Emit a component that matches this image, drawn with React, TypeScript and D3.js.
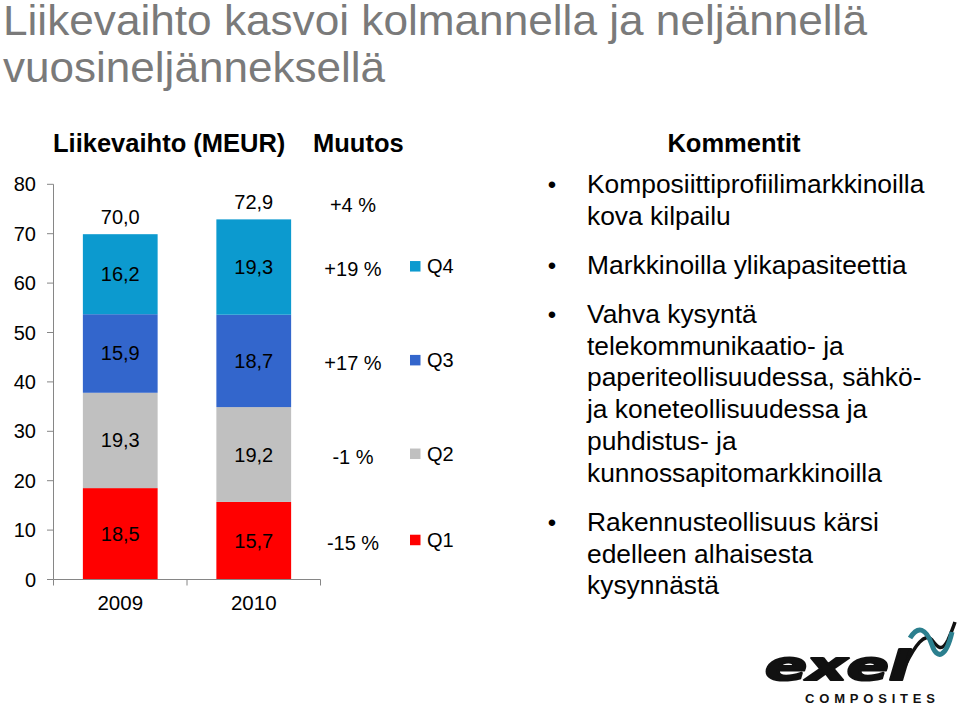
import React from "react";
import * as d3 from "d3";

const titleLines = ["Liikevaihto kasvoi kolmannella ja neljännellä", "vuosineljänneksellä"];
const years = ["2009", "2010"];
const quarters = ["Q1", "Q2", "Q3", "Q4"];
const values2009 = [18.5, 19.3, 15.9, 16.2];
const values2010 = [15.7, 19.2, 18.7, 19.3];
const totals = [70.0, 72.9];
const totalLabels = ["70,0", "72,9"];
const changes = ["-15 %", "-1 %", "+17 %", "+19 %"];
const totalChange = "+4 %";
const yTicks = [0, 10, 20, 30, 40, 50, 60, 70, 80];
const quarterColors = ["#FF0000", "#C0C0C0", "#3366CC", "#0C9ACF"];
const comments = [
  ["Komposiittiprofiilimarkkinoilla", "kova kilpailu"],
  ["Markkinoilla ylikapasiteettia"],
  [
    "Vahva kysyntä",
    "telekommunikaatio- ja",
    "paperiteollisuudessa, sähkö-",
    "ja koneteollisuudessa ja",
    "puhdistus- ja",
    "kunnossapitomarkkinoilla",
  ],
  ["Rakennusteollisuus kärsi", "edelleen alhaisesta", "kysynnästä"],
];

const FONT = "'Liberation Sans', Arial, Helvetica, sans-serif";
const fmt = (v: number) => v.toFixed(1).replace(".", ",");

export default function App() {
  const x = d3.scaleBand<string>().domain(years).range([53.5, 320.5]).paddingInner(0.44).paddingOuter(0.22);
  const y = d3.scaleLinear().domain([0, 80]).range([579.5, 184.3]);

  const rows = years.map((yr, i) => {
    const vals = i === 0 ? values2009 : values2010;
    const o: any = { year: yr };
    quarters.forEach((q, j) => (o[q] = vals[j]));
    return o;
  });
  const series = d3.stack().keys(quarters)(rows);

  const lineH = 31.8;
  const bulletGap = 49;
  let cy = 193;
  const commentLines: { text: string; y: number; bullet: boolean }[] = [];
  comments.forEach((c, bi) => {
    if (bi > 0) cy += bulletGap - lineH;
    c.forEach((t, li) => {
      commentLines.push({ text: t, y: cy, bullet: li === 0 });
      cy += lineH;
    });
  });

  const last = series.map((s) => s[1]);
  const legendX = 410;

  return (
    <svg width={960} height={718} style={{ position: "absolute", left: 0, top: 0, background: "#fff" }} fontFamily={FONT}>
      {titleLines.map((t, i) => (
        <text key={i} x={3} y={i === 0 ? 35 : 82} fontSize={42} fill="#7a7a7a" textLength={i === 0 ? 864 : 382} lengthAdjust="spacingAndGlyphs">
          {t}
        </text>
      ))}

      <text x={53} y={152} fontSize={25.5} fontWeight="bold" fill="#000">Liikevaihto (MEUR)</text>
      <text x={313} y={152} fontSize={25.5} fontWeight="bold" fill="#000">Muutos</text>
      <text x={734} y={152} fontSize={25.5} fontWeight="bold" fill="#000" textAnchor="middle">Kommentit</text>

      {series.map((s, si) =>
        s.map((d, di) => (
          <rect
            key={`${si}-${di}`}
            x={x(years[di])!}
            y={y(d[1])}
            width={x.bandwidth()}
            height={y(d[0]) - y(d[1])}
            fill={quarterColors[si]}
          />
        ))
      )}
      {series.map((s, si) =>
        s.map((d, di) => (
          <text
            key={`l${si}-${di}`}
            x={x(years[di])! + x.bandwidth() / 2}
            y={(y(d[0]) + y(d[1])) / 2}
            dy="0.35em"
            textAnchor="middle"
            fontSize={20}
            fill="#000"
          >
            {fmt(d[1] - d[0])}
          </text>
        ))
      )}
      {years.map((yr, i) => (
        <text key={`t${i}`} x={x(yr)! + x.bandwidth() / 2} y={y(totals[i]) - 10} textAnchor="middle" fontSize={20} fill="#000">
          {totalLabels[i]}
        </text>
      ))}

      <line x1={53.5} x2={53.5} y1={y(80)} y2={y(0)} stroke="#868686" strokeWidth={1} />
      {yTicks.map((t) => (
        <g key={`yt${t}`}>
          <line x1={47} x2={53.5} y1={y(t)} y2={y(t)} stroke="#868686" />
          <text x={36} y={y(t)} dy="0.35em" textAnchor="end" fontSize={20} fill="#000">{t}</text>
        </g>
      ))}
      <line x1={53.5} x2={320.5} y1={y(0)} y2={y(0)} stroke="#868686" />
      {[53.5, 53.5 + x.step(), 53.5 + 2 * x.step()].map((px, i) => (
        <line key={`xt${i}`} x1={px} x2={px} y1={y(0)} y2={y(0) + 6} stroke="#868686" />
      ))}
      {years.map((yr) => (
        <text key={`xl${yr}`} x={x(yr)! + x.bandwidth() / 2} y={610} textAnchor="middle" fontSize={20.5} fill="#000">
          {yr}
        </text>
      ))}

      <text x={353} y={y(totals[1]) - 10 + 3} textAnchor="middle" fontSize={20} fill="#000">{totalChange}</text>
      {changes.map((c, i) => {
        const d = last[i];
        const cyv = (y(d[0]) + y(d[1])) / 2 + 2;
        return (
          <text key={`c${i}`} x={353} y={cyv} dy="0.35em" textAnchor="middle" fontSize={20} fill="#000">{c}</text>
        );
      })}

      {quarters.map((q, i) => {
        const d = last[i];
        const cyv = (y(d[0]) + y(d[1])) / 2 - 1;
        return (
          <g key={`lg${q}`}>
            <rect x={legendX} y={cyv - 5} width={10.5} height={10.5} fill={quarterColors[i]} />
            <text x={427} y={cyv} dy="0.35em" fontSize={20} fill="#000">{q}</text>
          </g>
        );
      })}

      {commentLines.map((l, i) => (
        <g key={`cm${i}`}>
          {l.bullet && (
            <text x={552} y={l.y} textAnchor="middle" fontSize={24} fill="#000">•</text>
          )}
          <text x={587} y={l.y} fontSize={26.4} fill="#000">{l.text}</text>
        </g>
      ))}

      <g>
        <text x={765} y={680} fontSize={40} fontWeight="bold" fontStyle="italic" fontFamily="'DejaVu Sans', sans-serif" fill="#111" stroke="#111" strokeWidth={2.2} strokeLinejoin="round" textLength={145} lengthAdjust="spacingAndGlyphs">
          exel
        </text>
        <text x={805} y={703} fontSize={13} fontWeight="bold" fill="#111" textLength={130} lengthAdjust="spacing">
          COMPOSITES
        </text>
        <path d="M905,666 C915,645 925,632 932,640 C938,648 942,652 948,640 C951,633 953,628 955,622" fill="none" stroke="#111" strokeWidth={3.5} />
        <path d="M910,638 C918,625 926,628 932,645 C937,660 946,658 952,632" fill="none" stroke="#2B7F8E" strokeWidth={5} />
      </g>
    </svg>
  );
}
